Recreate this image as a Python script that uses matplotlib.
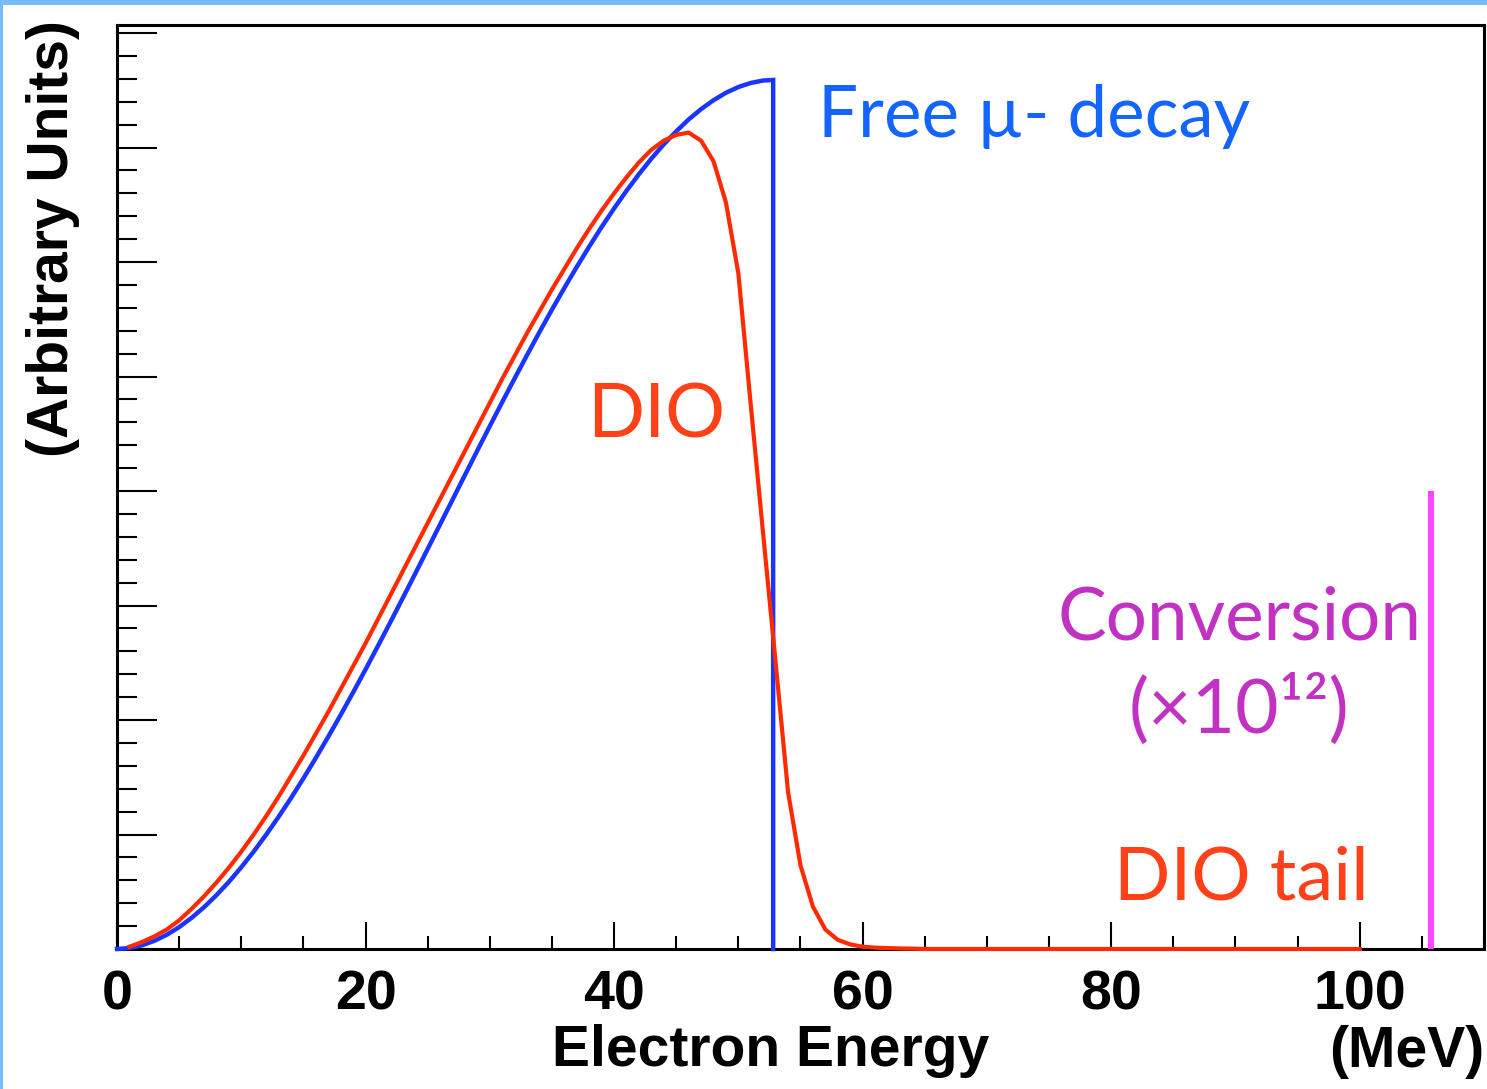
import matplotlib
matplotlib.use("Agg")
import matplotlib.pyplot as plt
from matplotlib.patches import Rectangle
from matplotlib.ticker import MultipleLocator

# Free muon decay (Michel) spectrum, arbitrary units
free_energy = [0, 1, 2, 3, 4, 5, 6, 7, 8, 9, 10, 11, 12, 13, 14, 15, 16, 17,
               18, 19, 20, 21, 22, 23, 24, 25, 26, 27, 28, 29, 30, 31, 32, 33,
               34, 35, 36, 37, 38, 39, 40, 41, 42, 43, 44, 45, 46, 47, 48, 49,
               50, 51, 52, 52.8, 52.8]
free_value = [0.0, 0.008, 0.032, 0.071, 0.124, 0.191, 0.272, 0.365, 0.470,
              0.586, 0.714, 0.851, 0.998, 1.154, 1.318, 1.490, 1.669, 1.854,
              2.045, 2.241, 2.442, 2.647, 2.855, 3.066, 3.279, 3.494, 3.709,
              3.924, 4.140, 4.354, 4.567, 4.777, 4.984, 5.188, 5.389, 5.584,
              5.774, 5.958, 6.135, 6.306, 6.468, 6.622, 6.767, 6.903, 7.028,
              7.141, 7.245, 7.335, 7.413, 7.478, 7.528, 7.564, 7.585, 7.59,
              0.0]

# Decay-in-orbit spectrum, arbitrary units
dio_energy = [1, 2, 3, 4, 5, 6, 7, 8, 9, 10, 11, 12, 13, 14, 15, 16, 17, 18,
              19, 20, 21, 22, 23, 24, 25, 26, 27, 28, 29, 30, 31, 32, 33, 34,
              35, 36, 37, 38, 39, 40, 41, 42, 43, 44, 45, 46, 47, 48, 49, 50,
              51, 52, 53, 54, 55, 56, 57, 58, 59, 60, 61, 62, 63, 64, 65, 100]
dio_value = [0.02, 0.06, 0.11, 0.17, 0.25, 0.35, 0.46, 0.58, 0.71, 0.85,
             1.00, 1.16, 1.33, 1.51, 1.69, 1.88, 2.07, 2.27, 2.47, 2.67,
             2.88, 3.09, 3.30, 3.51, 3.72, 3.93, 4.14, 4.35, 4.56, 4.77,
             4.98, 5.18, 5.38, 5.57, 5.76, 5.94, 6.12, 6.29, 6.45, 6.60,
             6.74, 6.87, 6.98, 7.06, 7.11, 7.13, 7.06, 6.88, 6.52, 5.90,
             4.75, 3.62, 2.50, 1.37, 0.73, 0.37, 0.17, 0.08, 0.04, 0.02,
             0.012, 0.008, 0.005, 0.003, 0.0, 0.0]

# Conversion electron line (scaled by 10^12)
conversion_energy = 105.7
conversion_height = 4.0

x_major_ticks = [0, 20, 40, 60, 80, 100]
x_tick_labels = ["0", "20", "40", "60", "80", "100"]

BLUE = "#1a35ff"
RED = "#ff2a00"
TEXT_BLUE = "#1464ff"
TEXT_RED = "#ff4019"
TEXT_PURPLE = "#c232c2"
MAGENTA = "#ff44ff"

W, H = 1487, 1089
fig = plt.figure(figsize=(W / 100, H / 100), dpi=100)
fig.patch.set_facecolor("white")

# light blue slide border along top and left edges
fig.patches.append(Rectangle((0, 1 - 5 / H), 1, 5 / H, transform=fig.transFigure,
                             facecolor="#78bcff", edgecolor="none", zorder=0))
fig.patches.append(Rectangle((0, 0), 3 / W, 1, transform=fig.transFigure,
                             facecolor="#78bcff", edgecolor="none", zorder=0))

left, right, bottom, top = 117 / W, 1484 / W, (H - 949) / H, (H - 25) / H
ax = fig.add_axes([left, bottom, right - left, top - bottom])

ax.set_xlim(0, 110)
ax.set_ylim(0, (949 - 25) / 114.5)

ax.plot(free_energy, free_value, color=BLUE, lw=3.2, zorder=3, clip_on=False,
        solid_joinstyle="miter")
ax.plot(dio_energy, dio_value, color=RED, lw=3.0, zorder=4, clip_on=False)
ax.vlines(conversion_energy, 0, conversion_height, color=MAGENTA, lw=4.3,
          zorder=4)

for s in ax.spines.values():
    s.set_linewidth(2.2)
    s.set_zorder(2)

ax.xaxis.set_major_locator(MultipleLocator(20))
ax.xaxis.set_minor_locator(MultipleLocator(5))
ax.yaxis.set_major_locator(MultipleLocator(1))
ax.yaxis.set_minor_locator(MultipleLocator(0.2))
ax.set_xticks(x_major_ticks)
ax.set_xticklabels(x_tick_labels)
ax.tick_params(axis="x", which="major", direction="in", length=19.5, width=1.5,
               pad=15, labelsize=40, top=False)
ax.tick_params(axis="x", which="minor", direction="in", length=9.5, width=1.5,
               top=False)
ax.tick_params(axis="y", which="major", direction="in", length=29, width=1.5,
               labelleft=False, right=False)
ax.tick_params(axis="y", which="minor", direction="in", length=14.5, width=1.5,
               right=False)
for lab in ax.get_xticklabels():
    lab.set_family(["Liberation Sans", "DejaVu Sans"])
    lab.set_fontweight("bold")

axis_font = dict(family=["Liberation Sans", "DejaVu Sans"], fontweight="bold",
                 fontsize=41)
fig.text(771 / W, (H - 1066) / H, "Electron Energy", ha="center",
         va="baseline", **axis_font)
fig.text(1484 / W, (H - 1067) / H, "(MeV)", ha="right", va="baseline",
         **axis_font)
fig.text(53 / W, (H - 20) / H, "(Arbitrary Units)", rotation=90, ha="center",
         va="top", **axis_font)

label_family = ["Lato", "DejaVu Sans"]
ax.text(56.4, 7.09, "Free \u00b5- decay", color=TEXT_BLUE, ha="left",
        va="baseline", family=label_family, fontsize=51)
ax.text(37.8, 4.47, "DIO", color=TEXT_RED, ha="left", va="baseline",
        family=label_family, fontsize=54)
ax.text(90.3, 2.70, "Conversion", color=TEXT_PURPLE, ha="center",
        va="baseline", family=label_family, fontsize=52.5)
ax.text(90.3, 1.89, "(\u00d710\u00b9\u00b2)", color=TEXT_PURPLE, ha="center",
        va="baseline", family=label_family, fontsize=54)
ax.text(80.2, 0.43, "DIO tail", color=TEXT_RED, ha="left", va="baseline",
        family=label_family, fontsize=53.5)

fig.savefig("out.png", dpi=100, facecolor="white")
